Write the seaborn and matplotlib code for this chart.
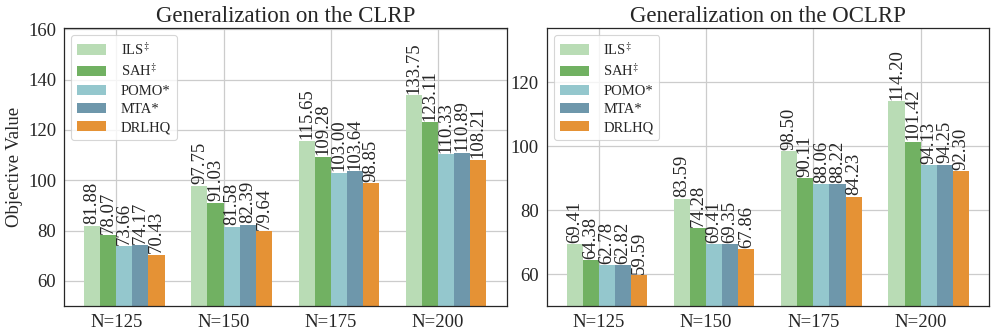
import numpy as np
import pandas as pd
import matplotlib
matplotlib.use("Agg")
import matplotlib.pyplot as plt
import seaborn as sns

categories = ["N=125", "N=150", "N=175", "N=200"]
methods = ["ILS$^{\\ddagger}$", "SAH$^{\\ddagger}$", "POMO*", "MTA*", "DRLHQ"]
colors = ["#b9dcb5", "#71b162", "#94c7cd", "#6e97ab", "#e59235"]

clrp_ils = [81.88, 97.75, 115.65, 133.75]
clrp_sah = [78.07, 91.03, 109.28, 123.11]
clrp_pomo = [73.66, 81.58, 103.00, 110.33]
clrp_mta = [74.17, 82.39, 103.64, 110.89]
clrp_drlhq = [70.43, 79.64, 98.85, 108.21]

oclrp_ils = [69.41, 83.59, 98.50, 114.20]
oclrp_sah = [64.38, 74.28, 90.11, 101.42]
oclrp_pomo = [62.78, 69.41, 88.06, 94.13]
oclrp_mta = [62.82, 69.35, 88.22, 94.25]
oclrp_drlhq = [59.59, 67.86, 84.23, 92.30]

titles = ["Generalization on the CLRP", "Generalization on the OCLRP"]


def make_df(series):
    rows = []
    for m, vals in zip(methods, series):
        for c, v in zip(categories, vals):
            rows.append({"N": c, "method": m, "value": v})
    return pd.DataFrame(rows)


dfs = [
    make_df([clrp_ils, clrp_sah, clrp_pomo, clrp_mta, clrp_drlhq]),
    make_df([oclrp_ils, oclrp_sah, oclrp_pomo, oclrp_mta, oclrp_drlhq]),
]

sns.set_style("whitegrid")
plt.rcParams["font.family"] = ["Liberation Serif", "DejaVu Serif"]
plt.rcParams["mathtext.fontset"] = "stix"

fig, axes = plt.subplots(1, 2, figsize=(9.97, 3.33), dpi=100)
fig.subplots_adjust(left=0.0642, right=0.992, top=0.916, bottom=0.081, wspace=0.0904)

bar_w = 0.75
for ax, df, title in zip(axes, dfs, titles):
    sns.barplot(data=df, x="N", y="value", hue="method", hue_order=methods,
                order=categories, palette=colors, width=bar_w, saturation=1,
                linewidth=0, errorbar=None, ax=ax)
    for cont in ax.containers:
        ax.bar_label(cont, fmt="%.2f", rotation=90, padding=1, fontsize=13.5)
    vmax = df["value"].max()
    ax.set_ylim(50, vmax * 1.2)
    ax.yaxis.set_major_locator(matplotlib.ticker.MultipleLocator(20))
    ax.set_xlim(-0.5625, 3.5625)
    ax.set_xticks(np.arange(len(categories)) - bar_w / 10)
    ax.set_xticklabels(categories)
    ax.set_xlabel("")
    ax.set_ylabel("")
    ax.set_title(title, fontsize=16.5, pad=4)
    ax.tick_params(axis="both", direction="out", length=3.5, width=0.8,
                   color="0.15", labelsize=13.5, pad=2)
    ax.grid(True, color="#cccccc", linewidth=0.9)
    ax.set_axisbelow(True)
    for sp in ax.spines.values():
        sp.set_color("0.15")
        sp.set_linewidth(0.9)
    leg = ax.legend(loc="upper left", fontsize=10.5, frameon=True,
                    handlelength=2.0, labelspacing=0.35, borderpad=0.4,
                    handletextpad=1.0, fancybox=True)
    leg.get_frame().set_edgecolor("#cccccc")
    leg.get_frame().set_linewidth(0.8)

axes[0].set_ylabel("Objective Value", fontsize=13.5)

fig.savefig("out.png", dpi=100)
